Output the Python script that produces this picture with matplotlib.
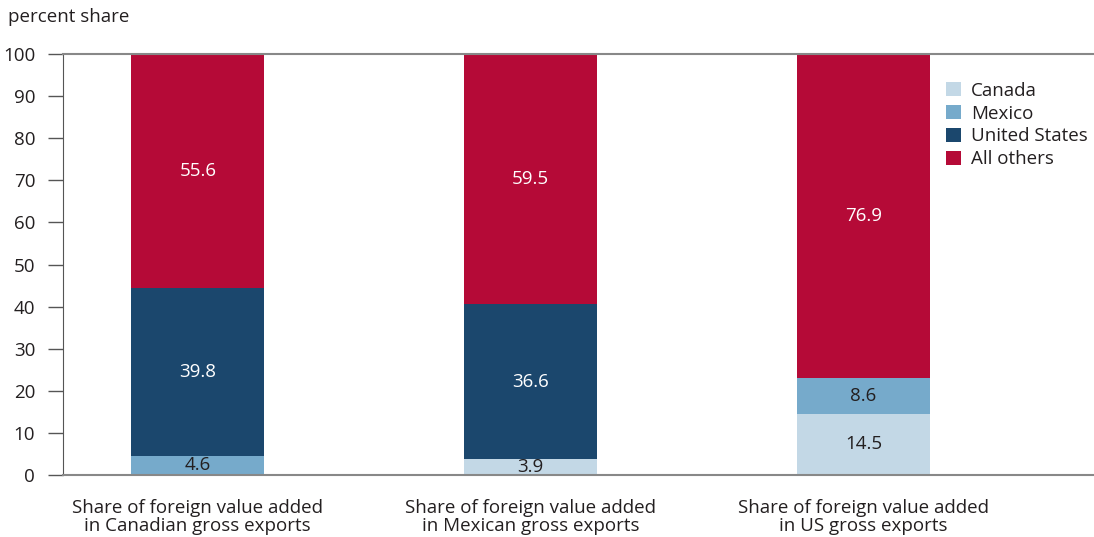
import matplotlib.pyplot as plt
import numpy as np

plt.rcParams['font.family'] = ['Open Sans', 'DejaVu Sans']

# stacked shares
groups = ['Share of foreign value added\nin Canadian gross exports',
          'Share of foreign value added\nin Mexican gross exports',
          'Share of foreign value added\nin US gross exports']
series = ['Canada', 'Mexico', 'United States', 'All others']
canada = [0, 3.9, 14.5]
mexico = [4.6, 0, 8.6]
united_states = [39.8, 36.6, 0]
all_others = [55.6, 59.5, 76.9]
yticks = [0, 10, 20, 30, 40, 50, 60, 70, 80, 90, 100]

colors = ['#c3d8e6', '#76aacb', '#1b476d', '#b50a37']
text_colors = ['#231f20', '#231f20', 'white', 'white']
fs = 13.5

fig = plt.figure(figsize=(10.94, 5.37), dpi=100)
ax = fig.add_axes([63 / 1094, 62 / 537, 1030 / 1094, 421 / 537])

x = np.arange(len(groups))
bottom = np.zeros(len(groups))
for name, vals, c, tc in zip(series, [canada, mexico, united_states, all_others], colors, text_colors):
    vals = np.array(vals, dtype=float)
    ax.bar(x, vals, 0.4, bottom=bottom, color=c, label=name, edgecolor='none')
    for xi, b, v in zip(x, bottom, vals):
        if v > 0:
            ax.text(xi, b + v / 2, f'{v:.1f}', ha='center', va='center',
                    color=tc, fontsize=fs)
    bottom += vals

ax.set_xlim(-0.405, 2.69)
ax.set_ylim(0, 100)
ax.set_yticks(yticks)
ax.set_xticks(x)
ax.set_xticklabels(groups, fontsize=fs, color='#231f20', linespacing=1.05)
ax.tick_params(axis='x', length=0, pad=17)
ax.tick_params(axis='y', length=11, width=1, color='#555555', labelsize=fs,
               labelcolor='#231f20', pad=9)

for s in ['top', 'bottom']:
    ax.spines[s].set_color('#888888')
    ax.spines[s].set_linewidth(1.5)
ax.spines['left'].set_color('#555555')
ax.spines['right'].set_visible(False)

fig.text(8 / 1094, 1 - 17 / 537, 'percent share', fontsize=fs, color='#231f20', va='center')

leg = ax.legend(loc='upper left', bbox_to_anchor=(0.85, 0.952), frameon=False,
                fontsize=fs, handlelength=0.8, handleheight=0.8,
                handletextpad=0.55, labelspacing=0.26, borderaxespad=0)
for t in leg.get_texts():
    t.set_color('#231f20')

fig.savefig('out.png', dpi=100)
